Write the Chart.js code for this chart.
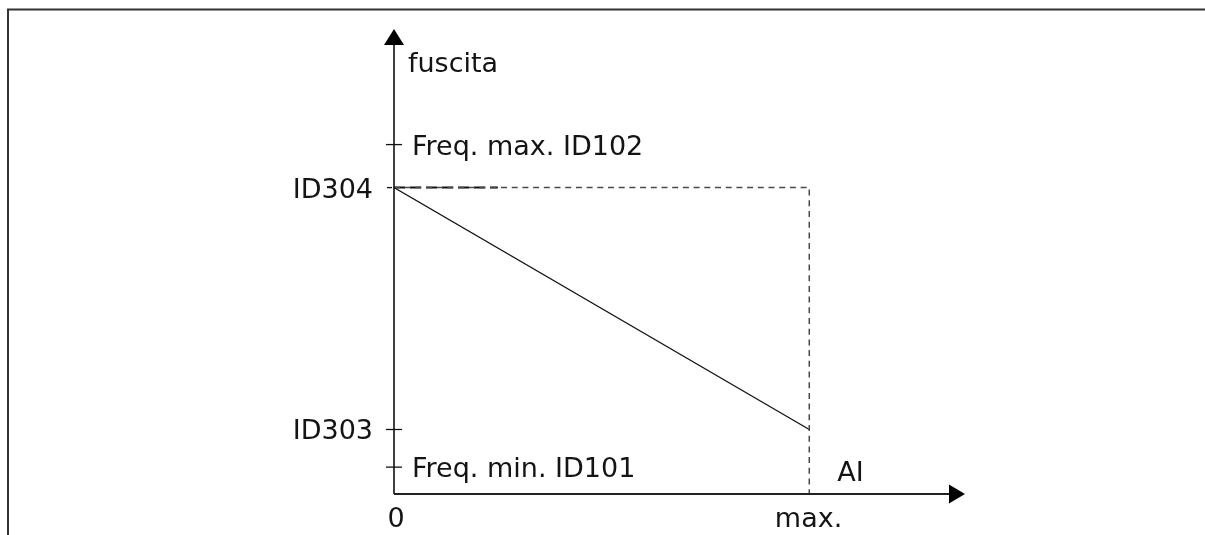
<!DOCTYPE html>
<html>
<head>
<meta charset="utf-8">
<script src="https://cdn.jsdelivr.net/npm/chart.js"></script>
<style>
  body { margin: 0; background: #fff; }
  #wrap { width: 1205px; height: 535px; }
</style>
</head>
<body>
<div id="wrap"><canvas id="chart" width="1205" height="535"></canvas></div>
<script>
// x axis: analog input AI, 0 .. max
const xTickValues = [0, 1];
const xTickLabels = ['0', 'max.'];
const xTitle = 'AI';

// y axis: output frequency
const yTitle = 'fuscita';
const yTickValues = [5, 12, 57, 65];
const yTickLabels = ['Freq. min. ID101', 'ID303', 'ID304', 'Freq. max. ID102'];

// inverted scaling: AI 0 -> ID304, AI max -> ID303
const aiInput = [0, 1];
const fOutput = [57, 12];

// dashed guides at ID304 / max
const guideX = [0, 1, 1];
const guideY = [57, 57, 0];
const darkDashX = [0, 0.25];
const darkDashY = [57, 57];

const xMax = 1.375;
const yMax = 86.5;
const FONT = '27px "DejaVu Sans", Verdana, sans-serif';
const INK = '#141414';

const pts = (xs, ys) => xs.map((x, i) => ({ x, y: ys[i] }));

const diagram = {
    id: 'diagram',
    beforeDraw(chart) {
        const c = chart.ctx;
        // outer frame (top and left edges)
        c.save();
        c.strokeStyle = '#333';
        c.lineWidth = 2;
        c.beginPath();
        c.moveTo(8, 535);
        c.lineTo(8, 9.5);
        c.lineTo(1205, 9.5);
        c.stroke();
        c.restore();
    },
    afterDatasetsDraw(chart) {
        const c = chart.ctx;
        const xs = chart.scales.x, ys = chart.scales.y;
        const x0 = xs.getPixelForValue(0);
        const y0 = ys.getPixelForValue(0);
        const top = chart.chartArea.top;
        const right = chart.chartArea.right;
        c.save();
        c.strokeStyle = '#000';
        c.fillStyle = '#000';
        // y axis + arrow
        c.lineWidth = 1.5;
        c.beginPath();
        c.moveTo(x0, y0);
        c.lineTo(x0, top + 14);
        c.stroke();
        c.beginPath();
        c.moveTo(x0, top);
        c.lineTo(x0 + 10, top + 16);
        c.lineTo(x0 - 10, top + 16);
        c.closePath();
        c.fill();
        // x axis + arrow
        c.lineWidth = 2;
        c.strokeStyle = '#222';
        c.beginPath();
        c.moveTo(x0, y0);
        c.lineTo(right - 14, y0);
        c.stroke();
        c.beginPath();
        c.moveTo(right, y0);
        c.lineTo(right - 16, y0 - 9.5);
        c.lineTo(right - 16, y0 + 9.5);
        c.closePath();
        c.fill();

        // y ticks and labels
        c.font = FONT;
        c.fillStyle = INK;
        c.lineWidth = 1.3;
        yTickValues.forEach((v, i) => {
            const y = ys.getPixelForValue(v);
            c.strokeStyle = '#111';
            c.beginPath();
            if (v === guideY[0]) {
                c.moveTo(x0 - 7, y);
                c.lineTo(x0 - 2, y);
            } else {
                c.moveTo(x0 - 8, y);
                c.lineTo(x0 + 8, y);
            }
            c.stroke();
            const label = yTickLabels[i];
            if (label.startsWith('Freq')) {
                c.textAlign = 'left';
                c.fillText(label, x0 + 18, y + 10);
            } else {
                c.textAlign = 'right';
                c.fillText(label, x0 - 21, y + 10);
            }
        });

        // x tick labels
        xTickValues.forEach((v, i) => {
            const x = xs.getPixelForValue(v);
            c.textAlign = i === 0 ? 'center' : 'right';
            c.fillText(xTickLabels[i], i === 0 ? x + 2 : x + 33, y0 + 33);
        });

        // axis titles
        c.textAlign = 'left';
        c.fillText(yTitle, x0 + 14, top + 43);
        c.fillText(xTitle, xs.getPixelForValue(1) + 28, y0 - 13);
        c.restore();
    }
};

new Chart(document.getElementById('chart'), {
    type: 'scatter',
    data: {
        datasets: [
            {
                data: pts(guideX, guideY),
                showLine: true,
                borderColor: '#4a4a4a',
                borderWidth: 1.5,
                borderDash: [6, 4.7],
                pointRadius: 0
            },
            {
                data: pts(darkDashX, darkDashY),
                showLine: true,
                borderColor: '#111',
                borderWidth: 2,
                borderDash: [11, 5],
                pointRadius: 0
            },
            {
                data: pts(aiInput, fOutput),
                showLine: true,
                borderColor: '#111',
                borderWidth: 1.3,
                pointRadius: 0
            }
        ]
    },
    options: {
        responsive: false,
        animation: false,
        layout: { padding: { left: 394, right: 240, top: 29, bottom: 41 } },
        scales: {
            x: { type: 'linear', min: 0, max: xMax, display: false },
            y: { type: 'linear', min: 0, max: yMax, display: false }
        },
        plugins: { legend: { display: false }, tooltip: { enabled: false } }
    },
    plugins: [diagram]
});
</script>
</body>
</html>
